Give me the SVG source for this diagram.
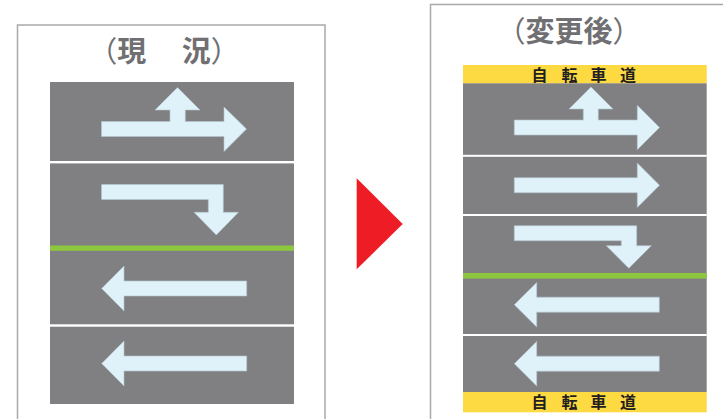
<svg xmlns="http://www.w3.org/2000/svg" width="723" height="419" viewBox="0 0 723 419">
<style>
.frame{fill:none;stroke:#a7a9ac;stroke-width:1.5}
.road{fill:#808083}
.wl{fill:#ffffff}
.gl{fill:#8dc63f}
.yl{fill:#fdd942}
.arr{fill:#dff1f9;stroke:#b4c6ce;stroke-width:0.6}
.title{font-family:"Noto Sans CJK JP","Noto Sans CJK SC",sans-serif;font-size:29px;font-weight:700;fill:#707073}
.par{font-weight:400}
.bike{font-family:"Noto Sans CJK JP","Noto Sans CJK SC",sans-serif;font-size:16px;font-weight:700;fill:#231f20;text-anchor:middle}
</style>
<rect width="723" height="419" fill="#ffffff"/>
<g id="panel-current">
  <path class="frame" d="M17.5,420 V25 H325 V420"/>
  <text class="title" x="88.2 117.2 146.2 181.7 210.7" y="62"><tspan class="par">（</tspan>現　況<tspan class="par">）</tspan></text>
  <rect class="road" x="50" y="82" width="244" height="322"/>
  <rect class="wl" x="50" y="161" width="244" height="2.4"/>
  <rect class="gl" x="50" y="245.5" width="244" height="5.3"/>
  <rect class="wl" x="50" y="324.3" width="244" height="2.4"/>
  <polygon class="arr" points="101.5,121.5 170,121.5 170,110 155,110 177.5,87.5 200,110 185.3,110 185.3,121.5 224,121.5 224,107 246.5,129 224,151.5 224,136.5 101.5,136.5"/>
  <polygon class="arr" points="101.5,184.5 223.3,184.5 223.3,212.3 238.5,212.3 216.3,235 194,212.3 208.3,212.3 208.3,199.5 101.5,199.5"/>
  <polygon class="arr" points="101.7,288.5 124,266 124,281 246.7,281 246.7,296 124,296 124,311"/>
  <polygon class="arr" points="101.7,363.5 124,341 124,356 246.7,356 246.7,371 124,371 124,386"/>
</g>
<g id="connectors">
  <polygon fill="#ee1c25" points="356.7,178.3 402.7,224 356.7,269.3"/>
</g>
<g id="panel-after">
  <path class="frame" d="M430.5,420 V4.5 H724"/>
  <text class="title" x="496.5 525.5 554.5 583.5 612.5" y="41.5"><tspan class="par">（</tspan>変更後<tspan class="par">）</tspan></text>
  <rect class="yl" x="463" y="65" width="243.7" height="18.5"/>
  <rect class="road" x="463" y="83.3" width="243.7" height="308.9"/>
  <rect class="yl" x="463" y="392" width="243.7" height="20.3"/>
  <rect class="wl" x="463" y="154.8" width="243.7" height="2"/>
  <rect class="wl" x="463" y="214" width="243.7" height="2"/>
  <rect class="gl" x="463" y="273" width="243.7" height="5.6"/>
  <rect class="wl" x="463" y="334" width="243.7" height="2"/>
  <text class="bike" x="539.5 569.5 598.5 628" y="80.5">自転車道</text>
  <text class="bike" x="539.5 569.5 598.5 628" y="408">自転車道</text>
  <polygon class="arr" points="514.3,120 583.3,120 583.3,109 569,109 591,87 613,109 598.3,109 598.3,120 637.3,120 637.3,105.3 659.5,127.5 637.3,149.7 637.3,135 514.3,135"/>
  <polygon class="arr" points="514.3,177.7 637.3,177.7 637.3,163 659.5,185.2 637.3,207.4 637.3,192.7 514.3,192.7"/>
  <polygon class="arr" points="514.3,225.7 636.7,225.7 636.7,245.7 651.3,245.7 628.8,268.3 606.3,245.7 621.3,245.7 621.3,240.7 514.3,240.7"/>
  <polygon class="arr" points="514.3,304.7 536.7,282.5 536.7,297.2 659.3,297.2 659.3,312.2 536.7,312.2 536.7,327"/>
  <polygon class="arr" points="514.3,363.7 536.7,341.5 536.7,356.2 659.3,356.2 659.3,371.2 536.7,371.2 536.7,386"/>
</g>
</svg>
